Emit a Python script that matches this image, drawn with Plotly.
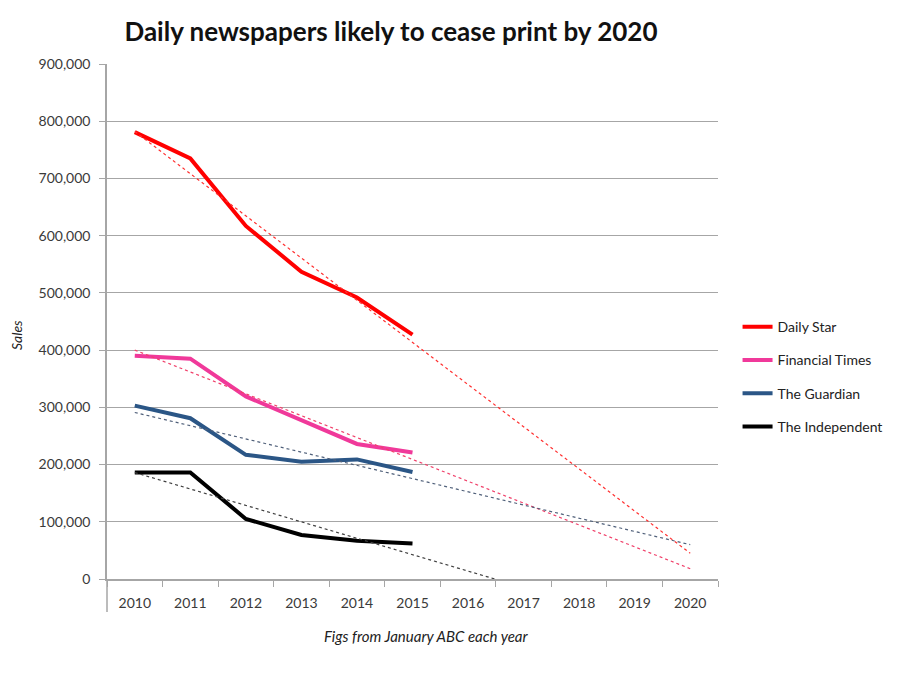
import plotly.graph_objects as go

years = ["2010", "2011", "2012", "2013", "2014", "2015", "2016", "2017", "2018", "2019", "2020"]
data_years = years[:6]

daily_star = [781000, 735000, 617000, 537000, 492000, 427000]
financial_times = [390000, 385000, 319000, 277000, 236000, 221000]
the_guardian = [303000, 281000, 217000, 205000, 209000, 187000]
the_independent = [186000, 186000, 105000, 77000, 67000, 62000]

# linear trendline end points (2010 -> 2020)
trend_x = [0, 10]
trend_daily_star = [782000, 45000]
trend_financial_times = [400000, 18000]
trend_the_guardian = [291000, 60000]
trend_the_independent = [186000, -101000]

series_names = ["Daily Star", "Financial Times", "The Guardian", "The Independent"]
series_values = [daily_star, financial_times, the_guardian, the_independent]
trend_values = [trend_daily_star, trend_financial_times, trend_the_guardian, trend_the_independent]
line_colors = ["#ff0000", "#f0399a", "#2b5686", "#000000"]
trend_colors = ["#ff3030", "#f0406a", "#50607a", "#404040"]

FONT = "Lato"
TXT = "#3a3a3a"
GRID = "#a6a6a6"

fig = go.Figure()

for name, vals, col in zip(series_names, series_values, line_colors):
    fig.add_trace(go.Scatter(
        x=data_years, y=vals, name=name, mode="lines",
        line=dict(color=col, width=4), legendgroup=name,
    ))

for name, vals, col in zip(series_names, trend_values, trend_colors):
    fig.add_trace(go.Scatter(
        x=trend_x, y=vals, mode="lines", xaxis="x2", showlegend=False,
        line=dict(color=col, width=1.2, dash="dot"), hoverinfo="skip",
    ))

fig.update_layout(
    width=900, height=680,
    margin=dict(l=99, r=190, t=56, b=109),
    paper_bgcolor="white", plot_bgcolor="white",
    font=dict(family=FONT, color=TXT, size=14),
    title=dict(
        text="<b>Daily newspapers likely to cease print by 2020</b>",
        x=383 / 900, xanchor="center", xref="container",
        y=1 - 24 / 680, yanchor="middle", yref="container",
        font=dict(family=FONT, size=26, color="#111111"),
    ),
    xaxis=dict(
        type="category", categoryorder="array", categoryarray=years,
        range=[-0.5, 10.5], tickson="boundaries",
        ticks="outside", ticklen=6, tickcolor=GRID,
        showline=True, linecolor=GRID, linewidth=1.5,
        showgrid=False, zeroline=False,
        tickfont=dict(size=14, color=TXT), ticklabelstandoff=10,
    ),
    xaxis2=dict(
        overlaying="x", range=[-0.5, 10.5], visible=False,
    ),
    yaxis=dict(
        range=[0, 900000], dtick=100000, tickformat=",d",
        showgrid=True, gridcolor=GRID, gridwidth=1.3,
        ticks="outside", ticklen=6, tickcolor=GRID,
        showline=True, linecolor=GRID, linewidth=1.5,
        zeroline=False, tickfont=dict(size=14, color=TXT),
        ticklabelstandoff=6,
    ),
    legend=dict(
        x=1.032, xanchor="left", y=0.52, yanchor="top",
        font=dict(size=14, color="#222222"),
        tracegroupgap=12, bgcolor="rgba(0,0,0,0)",
    ),
    showlegend=True,
)

# y axis line extends below the category axis
fig.add_shape(type="line", xref="paper", yref="paper",
              x0=0, x1=0, y0=0, y1=-33 / 515,
              line=dict(color=GRID, width=1.5))

fig.add_annotation(text="<i>Figs from January ABC each year</i>",
                   xref="paper", yref="paper", x=(426 - 107) / 611, y=(579 - 636) / 515,
                   showarrow=False, xanchor="center", yanchor="middle",
                   font=dict(size=15, color="#222222"))
fig.add_annotation(text="<i>Sales</i>", textangle=-90,
                   xref="paper", yref="paper", x=(16 - 107) / 611, y=(579 - 335) / 515,
                   showarrow=False, xanchor="center", yanchor="middle",
                   font=dict(size=14, color="#222222"))

fig.write_html("out.html")
